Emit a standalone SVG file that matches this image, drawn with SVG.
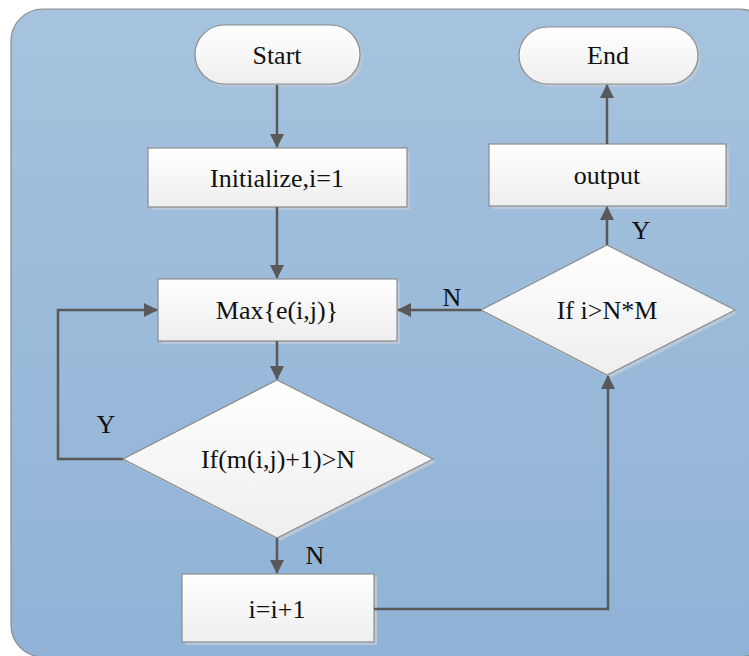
<svg xmlns="http://www.w3.org/2000/svg" width="749" height="656" viewBox="0 0 749 656">
<defs>
<linearGradient id="bg" x1="0" y1="0" x2="0" y2="1">
<stop offset="0" stop-color="#a6c3de"/>
<stop offset="1" stop-color="#8fb2d6"/>
</linearGradient>
<linearGradient id="nf" x1="0" y1="0" x2="0" y2="1">
<stop offset="0" stop-color="#ffffff"/>
<stop offset="1" stop-color="#eeeeee"/>
</linearGradient>
<marker id="ah" viewBox="0 0 14 14" refX="13" refY="7" markerWidth="14" markerHeight="14" markerUnits="userSpaceOnUse" orient="auto">
<path d="M0,0 L14,7 L0,14 Z" fill="#595959"/>
</marker>
<style>
.node{fill:url(#nf);stroke:#8c8c8c;stroke-width:1.2}
.sh{fill:#b8c8d8}
.t{font-family:"Liberation Serif","Times New Roman",serif;font-size:26px;fill:#111111;text-anchor:middle}
.c{fill:none;stroke:#595959;stroke-width:2.5}
</style>
</defs>
<rect x="11" y="9" width="760" height="648" rx="32" fill="url(#bg)" stroke="#8a8a8a" stroke-width="1.2"/>
<g id="start">
<rect class="sh" x="198" y="28" width="165" height="59" rx="29.5"/>
<rect class="node" x="195" y="25" width="165" height="59" rx="29.5"/>
<text class="t" x="277" y="64">Start</text>
</g>
<g id="end">
<rect class="sh" x="522" y="30" width="179" height="57" rx="28.5"/>
<rect class="node" x="519" y="27" width="179" height="57" rx="28.5"/>
<text class="t" x="608" y="64">End</text>
</g>
<g id="init">
<rect class="sh" x="151" y="151" width="259" height="59"/>
<rect class="node" x="148" y="148" width="259" height="59"/>
<text class="t" x="277" y="187">Initialize,i=1</text>
</g>
<g id="output">
<rect class="sh" x="492" y="147" width="237" height="62"/>
<rect class="node" x="489" y="144" width="237" height="62"/>
<text class="t" x="607" y="184">output</text>
</g>
<g id="max">
<rect class="sh" x="161" y="282" width="239" height="62"/>
<rect class="node" x="158" y="279" width="239" height="62"/>
<text class="t" x="277" y="319">Max{e(i,j)}</text>
</g>
<g id="cond1">
<polygon class="sh" points="280,383 436,462 280,541 126,462"/>
<polygon class="node" points="277,380 433,459 277,538 123,459"/>
<text class="t" x="278" y="468">If(m(i,j)+1)&gt;N</text>
</g>
<g id="incr">
<rect class="sh" x="185" y="577" width="192" height="68"/>
<rect class="node" x="182" y="574" width="192" height="68"/>
<text class="t" x="277" y="618">i=i+1</text>
</g>
<g id="cond2">
<polygon class="sh" points="610,248 738,313 610,378 484,313"/>
<polygon class="node" points="607,245 735,310 607,375 481,310"/>
<text class="t" x="607" y="319">If i&gt;N*M</text>
</g>
<g id="connectors">
<line class="c" x1="277" y1="85" x2="277" y2="147" marker-end="url(#ah)"/>
<line class="c" x1="277" y1="207" x2="277" y2="278" marker-end="url(#ah)"/>
<line class="c" x1="277" y1="341" x2="277" y2="379" marker-end="url(#ah)"/>
<polyline class="c" points="123,459 58,459 58,310 157,310" marker-end="url(#ah)"/>
<line class="c" x1="277" y1="538" x2="277" y2="573" marker-end="url(#ah)"/>
<polyline class="c" points="374,609 608,609 608,376" marker-end="url(#ah)"/>
<line class="c" x1="481" y1="310" x2="398" y2="310" marker-end="url(#ah)"/>
<line class="c" x1="607" y1="245" x2="607" y2="207" marker-end="url(#ah)"/>
<line class="c" x1="607" y1="144" x2="607" y2="85" marker-end="url(#ah)"/>
<text class="t" x="106" y="433">Y</text>
<text class="t" x="315" y="564">N</text>
<text class="t" x="452" y="306">N</text>
<text class="t" x="641" y="239">Y</text>
</g>
</svg>
